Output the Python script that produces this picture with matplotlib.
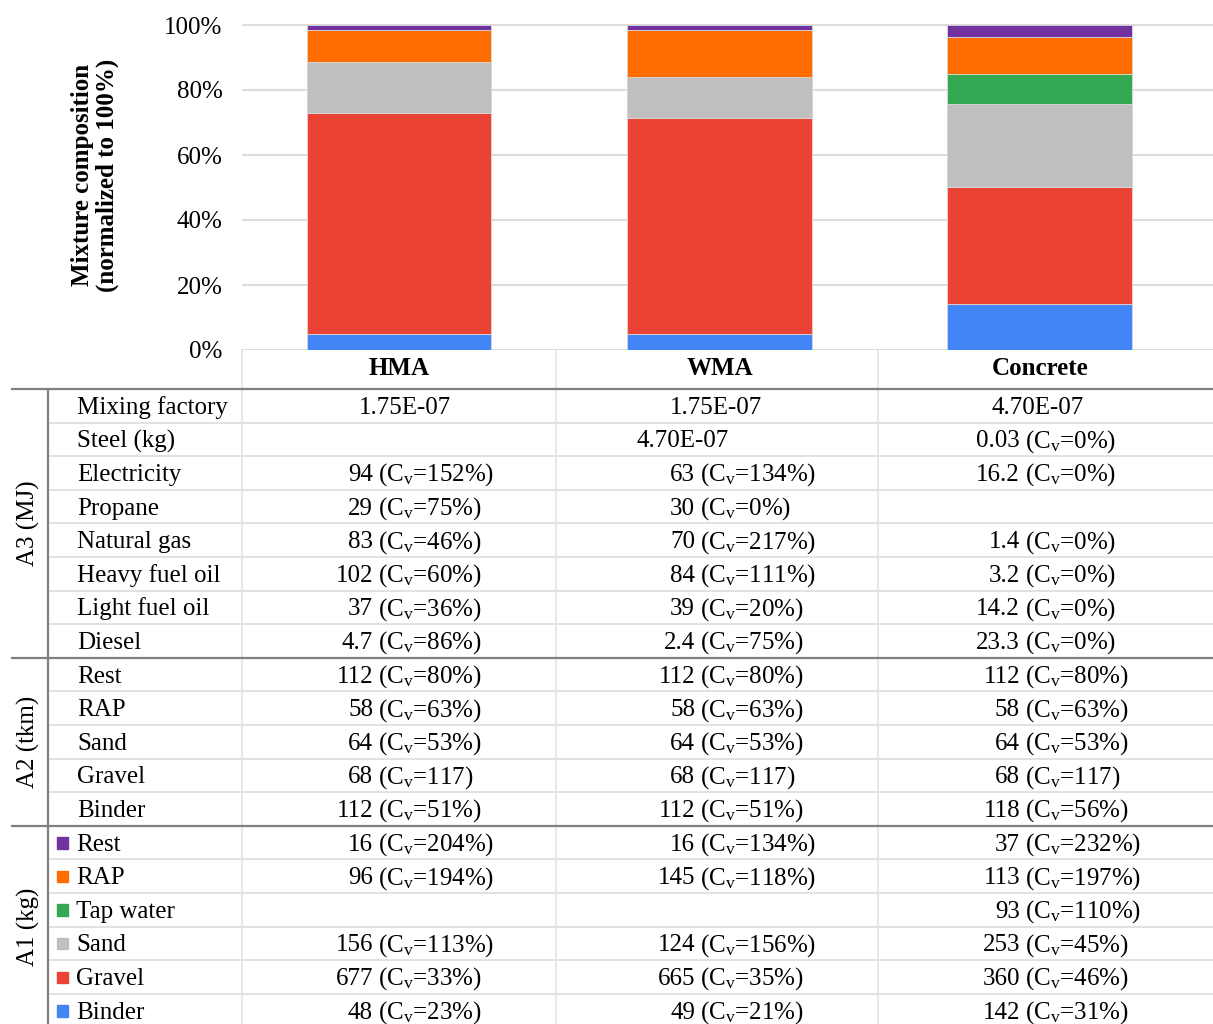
import matplotlib
matplotlib.use('Agg')
import matplotlib.pyplot as plt
from matplotlib.patches import Rectangle
import numpy as np

plt.rcParams['font.family'] = ['Liberation Serif', 'DejaVu Serif']
plt.rcParams['mathtext.fontset'] = 'custom'
plt.rcParams['mathtext.rm'] = 'Liberation Serif'
plt.rcParams['mathtext.it'] = 'Liberation Serif:italic'
plt.rcParams['mathtext.bf'] = 'Liberation Serif:bold'

# ---------------- data ----------------
mixtures = ['HMA', 'WMA', 'Concrete']
y_ticks = [0, 20, 40, 60, 80, 100]
y_tick_labels = ['0%', '20%', '40%', '60%', '80%', '100%']
y_label = 'Mixture composition\n(normalized to 100%)'

# A1 (kg) — also drives the stacked bars (normalized to 100 %)
a1_items = ['Rest', 'RAP', 'Tap water', 'Sand', 'Gravel', 'Binder']
a1_colors = ['#7232A0', '#FF6D00', '#34A853', '#BFBFBF', '#EA4335', '#4285F4']
a1_hma_val = [16, 96, 0, 156, 677, 48]
a1_wma_val = [16, 145, 0, 124, 665, 49]
a1_con_val = [37, 113, 93, 253, 360, 142]
a1_hma_cv = ['204%', '194%', None, '113%', '33%', '23%']
a1_wma_cv = ['134%', '118%', None, '156%', '35%', '21%']
a1_con_cv = ['232%', '197%', '110%', '45%', '46%', '31%']

# A2 (tkm)
a2_items = ['Rest', 'RAP', 'Sand', 'Gravel', 'Binder']
a2_hma_val = ['112', '58', '64', '68', '112']
a2_wma_val = ['112', '58', '64', '68', '112']
a2_con_val = ['112', '58', '64', '68', '118']
a2_hma_cv = ['80%', '63%', '53%', '117', '51%']
a2_wma_cv = ['80%', '63%', '53%', '117', '51%']
a2_con_cv = ['80%', '63%', '53%', '117', '56%']

# A3 (MJ)
a3_items = ['Mixing factory', 'Steel (kg)', 'Electricity', 'Propane',
            'Natural gas', 'Heavy fuel oil', 'Light fuel oil', 'Diesel']
a3_hma_val = ['1.75E-07', '', '94', '29', '83', '102', '37', '4.7']
a3_wma_val = ['1.75E-07', '4.70E-07', '63', '30', '70', '84', '39', '2.4']
a3_con_val = ['4.70E-07', '0.03', '16.2', '', '1.4', '3.2', '14.2', '23.3']
a3_hma_cv = [None, None, '152%', '75%', '46%', '60%', '36%', '86%']
a3_wma_cv = [None, None, '134%', '0%', '217%', '111%', '20%', '75%']
a3_con_cv = [None, '0%', '0%', None, '0%', '0%', '0%', '0%']

group_labels = ['A3 (MJ)', 'A2 (tkm)', 'A1 (kg)']

# ---------------- figure ----------------
W, H = 1213, 1024
fig = plt.figure(figsize=(W / 100, H / 100), dpi=100)

FS = 18
ax_left, ax_right = 242, 1213
ax_top, ax_bottom = 15, 350
y0_px, y100_px = 350, 25
ylim_top = 100 * (ax_bottom - ax_top) / (y0_px - y100_px)
ax = fig.add_axes([ax_left / W, 1 - ax_bottom / H, (ax_right - ax_left) / W,
                   (ax_bottom - ax_top) / H])
xlo, xhi = -0.49, 2.54
ax.set_xlim(xlo, xhi)
ax.set_ylim(0, ylim_top)

vals = np.array([a1_hma_val, a1_wma_val, a1_con_val], dtype=float)  # mix x comp
shares = vals / vals.sum(axis=1, keepdims=True) * 100
x = np.arange(len(mixtures))
bottom = np.zeros(len(mixtures))
for j in reversed(range(len(a1_items))):
    ax.bar(x, shares[:, j], bottom=bottom, width=0.577, color=a1_colors[j],
           edgecolor='#D8D8D8', linewidth=0.6, zorder=3)
    bottom += shares[:, j]

ax.set_yticks(y_ticks)
ax.set_yticklabels(y_tick_labels, fontsize=FS)
ax.set_xticks(x)
ax.set_xticklabels(mixtures, fontsize=FS, fontweight='bold')
ax.tick_params(axis='y', length=0, pad=14)
ax.tick_params(axis='x', length=0, pad=5)
ax.grid(axis='y', color='#DCDCDC', linewidth=1.5, zorder=0)
ax.set_axisbelow(True)
for s in ax.spines.values():
    s.set_visible(False)

fig.text(95 / W, 1 - 175 / H, y_label, rotation=90, ha='center', va='center',
         fontsize=FS, fontweight='bold', linespacing=1.05)

# ---------------- table overlay ----------------
ov = fig.add_axes([0, 0, 1, 1], zorder=-1)
ov.set_xlim(0, W)
ov.set_ylim(H, 0)
ov.axis('off')

col_bounds = [242, 556, 878]
paren_x = [378, 700, 1025]
plain_x = [405, 716, 1038]
plain_dx = {(1, 1): -33}

table_top = 389
row_h = 33.6
label_x = 77
group_div_x = 48
dark = '#808080'
light = '#E2E2E2'

groups = [
    (a3_items, [a3_hma_val, a3_wma_val, a3_con_val], [a3_hma_cv, a3_wma_cv, a3_con_cv], None),
    (a2_items, [a2_hma_val, a2_wma_val, a2_con_val], [a2_hma_cv, a2_wma_cv, a2_con_cv], None),
    (a1_items, [a1_hma_val, a1_wma_val, a1_con_val], [a1_hma_cv, a1_wma_cv, a1_con_cv], a1_colors),
]

# column separators
for cx in col_bounds:
    ov.plot([cx, cx], [y0_px, H], color=light, lw=1.1, zorder=1)

k = 0
for gi, (items, cols_val, cols_cv, colors) in enumerate(groups):
    g_top = table_top + k * row_h
    ov.plot([12, W], [g_top, g_top], color=dark, lw=1.6, zorder=3)
    for ri, item in enumerate(items):
        yc = table_top + (k + 0.5) * row_h
        yb = yc + 8
        if ri > 0:
            yl = table_top + k * row_h
            ov.plot([group_div_x, W], [yl, yl], color=light, lw=1.4, zorder=2)
        if colors is not None:
            ov.add_patch(Rectangle((56.5, yc - 5.5), 11.5, 11.5, color=colors[ri], zorder=4))
            ov.text(label_x - 1, yb, item, fontsize=FS, ha='left', va='baseline')
        else:
            ov.text(label_x, yb, item, fontsize=FS, ha='left', va='baseline')
        for ci in range(3):
            v = cols_val[ci][ri]
            cv = cols_cv[ci][ri]
            if cv is None:
                if colors is not None and v == 0:
                    continue
                if v == '' or v is None:
                    continue
                if gi == 0 and (ri, ci) in plain_dx:
                    ov.text(plain_x[ci] + plain_dx[(ri, ci)], yb, str(v), fontsize=FS,
                            ha='center', va='baseline')
                else:
                    ov.text(plain_x[ci], yb, str(v), fontsize=FS, ha='center', va='baseline')
            else:
                ov.text(paren_x[ci] - 5, yb, str(v), fontsize=FS, ha='right', va='baseline')
                ov.text(paren_x[ci], yb, r'(C$_\mathrm{v}$=' + cv + ')', fontsize=FS,
                        ha='left', va='baseline')
        k += 1
    g_bot = table_top + k * row_h
    ov.text(28, (g_top + min(g_bot, 1028)) / 2, group_labels[gi], rotation=90,
            fontsize=FS, ha='center', va='center')

ov.plot([group_div_x, group_div_x], [table_top, H], color=dark, lw=1.6, zorder=3)

fig.savefig('out.png', dpi=100)
